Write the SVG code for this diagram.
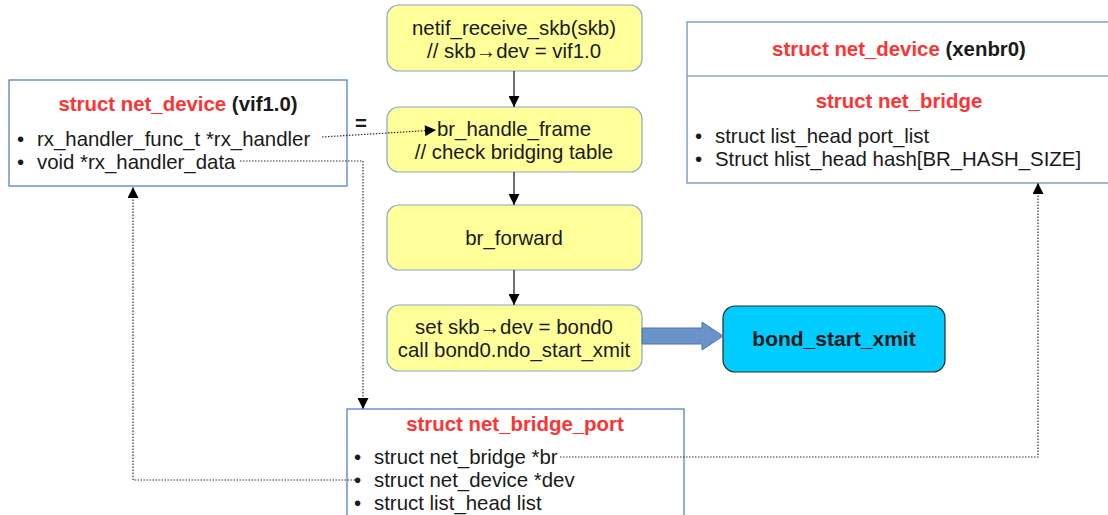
<svg xmlns="http://www.w3.org/2000/svg" width="1108" height="515" viewBox="0 0 1108 515">
  <style>
    text { font-family: "Liberation Sans", Arial, sans-serif; fill: #1a1a1a; }
    .t { font-size: 20.4px; }
    .c { text-anchor: middle; }
    .b { font-weight: bold; }
    .red { fill: #ff3333; }
    .struct { fill: #ffffff; stroke: #4a76c4; stroke-width: 1.2; }
    .struct2 { fill: #ffffff; stroke: #8aa6cc; stroke-width: 1.6; }
    .step { fill: #ffff99; stroke: #8aa6cc; stroke-width: 1.2; }
    .call { fill: #00ccff; stroke: #2a2a2a; stroke-width: 1.2; }
    .flow { stroke: #222; stroke-width: 1.3; fill: none; }
    .ptr { stroke: #333; stroke-width: 1.2; stroke-dasharray: 1.5 1.5; fill: none; }
  </style>
  <defs>
    <marker id="ahs" viewBox="0 0 10 10" refX="10" refY="5" markerWidth="14" markerHeight="11" markerUnits="userSpaceOnUse" orient="auto">
      <path d="M0,0 L10,5 L0,10 z" fill="#000"/>
    </marker>
  </defs>

  <!-- net_device of the guest interface -->
  <g id="vif_dev">
    <rect class="struct" x="9" y="80" width="338" height="106"/>
    <text class="t c b" x="178" y="111"><tspan class="red">struct net_device</tspan> (vif1.0)</text>
    <text class="t" x="17" y="146">•</text>
    <text class="t" x="37" y="146">rx_handler_func_t *rx_handler</text>
    <text class="t" x="17" y="169">•</text>
    <text class="t" x="37" y="169">void *rx_handler_data</text>
  </g>

  <text id="eq" class="t b" x="355" y="130">=</text>

  <!-- receive path -->
  <g id="netif_receive">
    <rect class="step" x="387" y="5" width="255" height="66" rx="12"/>
    <text class="t c" x="514" y="35">netif_receive_skb(skb)</text>
    <text class="t c" x="514" y="58">// skb→dev = vif1.0</text>
  </g>
  <g id="br_handle_frame">
    <rect class="step" x="387" y="107" width="255" height="65" rx="12"/>
    <text class="t c" x="514" y="136">br_handle_frame</text>
    <text class="t c" x="514" y="159">// check bridging table</text>
  </g>
  <g id="br_forward">
    <rect class="step" x="387" y="205" width="255" height="65" rx="12"/>
    <text class="t c" x="514" y="245">br_forward</text>
  </g>
  <g id="set_dev">
    <rect class="step" x="387" y="305" width="255" height="66" rx="12"/>
    <text class="t c" x="514" y="334">set skb→dev = bond0</text>
    <text class="t c" x="514" y="357">call bond0.ndo_start_xmit</text>
  </g>
  <g id="bond_start_xmit">
    <rect class="call" x="723" y="306" width="222" height="66" rx="12"/>
    <text class="c b" x="834" y="346" font-size="21px">bond_start_xmit</text>
  </g>

  <!-- bridge device -->
  <g id="xenbr0">
    <rect class="struct2" x="687" y="22" width="424" height="161"/>
    <line x1="687" y1="76" x2="1111" y2="76" stroke="#8aa6cc" stroke-width="1.6"/>
    <text class="t c b" x="899" y="56"><tspan class="red">struct net_device</tspan> (xenbr0)</text>
    <text class="t c b red" x="899" y="108">struct net_bridge</text>
    <text class="t" x="695" y="143">•</text>
    <text class="t" x="715" y="143">struct list_head port_list</text>
    <text class="t" x="695" y="166">•</text>
    <text class="t" x="715" y="166">Struct hlist_head hash[BR_HASH_SIZE]</text>
  </g>

  <!-- bridge port -->
  <g id="bridge_port">
    <rect class="struct" x="347" y="409" width="337" height="110"/>
    <text class="t c b red" x="515" y="431">struct net_bridge_port</text>
    <text class="t" x="354" y="464">•</text>
    <text class="t" x="374" y="464">struct net_bridge *br</text>
    <text class="t" x="354" y="487">•</text>
    <text class="t" x="374" y="487">struct net_device *dev</text>
    <text class="t" x="354" y="510">•</text>
    <text class="t" x="374" y="510">struct list_head list</text>
  </g>

  <g id="connectors">
    <line class="flow" x1="514" y1="71" x2="514" y2="107" marker-end="url(#ahs)"/>
    <line class="flow" x1="514" y1="172" x2="514" y2="205" marker-end="url(#ahs)"/>
    <line class="flow" x1="514" y1="270" x2="514" y2="305" marker-end="url(#ahs)"/>
    <path d="M642,328 H702 V322 L723,336 L702,350 V344 H642 Z" fill="#6b93c9" stroke="#4f74a8" stroke-width="1"/>
    <line class="ptr" x1="322" y1="137" x2="436" y2="130" marker-end="url(#ahs)"/>
    <path class="ptr" d="M240,161 H363 V409" marker-end="url(#ahs)"/>
    <path class="ptr" d="M358,480 H133 V187" marker-end="url(#ahs)"/>
    <path class="ptr" d="M560,457 H1038 V183" marker-end="url(#ahs)"/>
  </g>
</svg>
